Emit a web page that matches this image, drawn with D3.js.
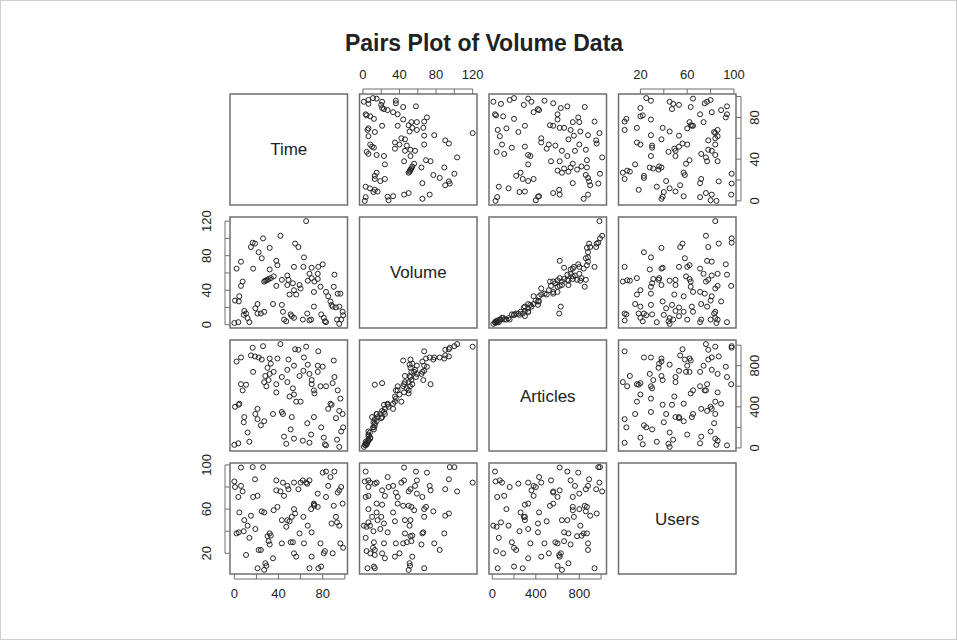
<!DOCTYPE html>
<html>
<head>
<meta charset="utf-8">
<script src="https://cdn.jsdelivr.net/npm/d3@7"></script>
<style>
  body { margin: 0; background: #fff; }
  svg { display: block; }
  text { font-family: "Liberation Sans", Arial, Helvetica, sans-serif; fill: #222; }
</style>
</head>
<body>
<svg id="chart" width="957" height="640"></svg>
<script>
// Variables shown on the diagonal, in order
const varNames = ["Time", "Volume", "Articles", "Users"];

// One entry per observation
const time = [0, 0.6, 2, 3.6, 4, 4.5, 6, 6, 7.5, 8.5, 9, 10.6, 12, 13.6, 15, 16.6, 17, 18.7, 19, 21,
  21, 22, 24, 24.8, 26, 27, 27, 28, 29, 30, 31, 33, 32, 32, 35, 35.6, 38, 38, 39, 41.7,
  43, 43, 44, 45, 47, 48, 48, 49, 50, 51, 52, 53, 54, 54, 54, 55, 56, 58, 59, 60,
  62, 62.5, 63, 65, 66, 66.5, 68, 68, 69.5, 70, 70, 72, 72, 72.5, 75.5, 75.5, 76, 78, 78.6, 80,
  81, 82, 83, 83, 85, 87, 88, 89, 90, 90.6, 92, 93, 93.6, 95, 95, 96, 96.7, 98, 98.5];

const volume = [2, 28, 65, 3, 27, 33, 73, 45, 50, 11.5, 16, 13, 7.7, 3, 90, 95, 65, 94, 19, 13,
  24, 84, 13, 77, 100, 15, 50, 51, 51.5, 52, 53, 54, 89, 64, 24, 56, 74, 45, 69, 103,
  52, 23, 15, 6, 4, 57, 46, 52, 35, 12, 10, 48, 67, 40, 8, 94, 35, 90, 46, 42,
  6, 67, 78, 120, 13, 51, 59, 5, 6, 66, 54, 38, 21, 50, 59, 53, 67, 44, 12, 70,
  8, 4, 38, 3, 33, 27, 23, 21, 44, 58, 20, 6, 36, 21, 1, 36, 6, 15, 11];

const articles = [30, 400, 840, 45, 420, 430, 880, 620, 560, 250, 300, 615, 150, 60, 900, 975, 740, 890, 330, 280,
  380, 880, 220, 860, 990, 260, 640, 700, 600, 780, 660, 820, 870, 720, 330, 740, 620, 540, 870, 1010,
  690, 350, 330, 110, 40, 760, 640, 860, 500, 180, 300, 580, 800, 520, 90, 960, 450, 955, 700, 450,
  70, 750, 880, 985, 240, 810, 720, 50, 130, 660, 620, 560, 300, 530, 800, 740, 940, 600, 200, 790,
  100, 35, 600, 25, 380, 430, 420, 630, 850, 690, 290, 80, 560, 360, 10, 480, 160, 330, 200];

const users = [85, 80, 38, 71, 39, 57, 81, 97.6, 76, 40, 50, 18.5, 45, 34, 54, 98, 71, 87, 42, 6.5,
  72, 23, 23, 58, 98, 57, 5, 11, 8.7, 35.5, 31, 36, 38, 28, 15.5, 59, 77, 86, 62, 76,
  50, 29, 84, 72, 44, 81, 50, 78, 49, 30, 53, 30, 60, 20, 84, 56, 17, 78, 38, 84,
  86, 53, 29, 84, 83, 45, 86, 6.5, 60, 39, 17, 65, 64, 63, 74, 62, 6.5, 29, 8, 93,
  20, 22, 71, 94, 81, 89, 47, 20, 63, 94, 53, 48, 75, 77, 45, 29, 80, 65, 25];

const series = [time, volume, articles, users];

const svg = d3.select("#chart");
const W = 957, H = 640;

// Light frame around the figure
svg.append("rect")
  .attr("x", 0.5).attr("y", 0.5).attr("width", W - 1).attr("height", H - 1)
  .attr("fill", "#fff").attr("stroke", "#d0d0d0");

// Title
svg.append("text")
  .attr("x", 484).attr("y", 51)
  .attr("text-anchor", "middle")
  .style("font-size", "23px").style("font-weight", "bold")
  .text("Pairs Plot of Volume Data");

// Grid of panels
const idx = d3.range(varNames.length);
const colBand = d3.scaleBand().domain(idx).range([230, 736]).paddingInner(0.0927);
const rowBand = d3.scaleBand().domain(idx).range([94, 574]).paddingInner(0.0976);
const bw = colBand.bandwidth(), bh = rowBand.bandwidth();

// Domain padded by 4% on each side
function padded(values) {
  const [lo, hi] = d3.extent(values);
  const r = hi - lo;
  return [lo - 0.04 * r, hi + 0.04 * r];
}

const xScales = series.map((v, j) =>
  d3.scaleLinear().domain(padded(v)).range([colBand(j), colBand(j) + bw]));
const yScales = series.map((v, i) =>
  d3.scaleLinear().domain(padded(v)).range([rowBand(i) + bh, rowBand(i)]));

const borderColor = "#6f6f6f";
const inkColor = "#262626";

idx.forEach(i => {
  idx.forEach(j => {
    const g = svg.append("g");
    const x0 = colBand(j), y0 = rowBand(i);
    if (i === j) {
      g.append("text")
        .attr("x", x0 + bw / 2).attr("y", y0 + bh / 2 + 6)
        .attr("text-anchor", "middle")
        .style("font-size", "17px")
        .text(varNames[i]);
    } else {
      const xs = xScales[j], ys = yScales[i];
      g.selectAll("circle")
        .data(d3.range(time.length))
        .join("circle")
        .attr("cx", k => xs(series[j][k]))
        .attr("cy", k => ys(series[i][k]))
        .attr("r", 2.5)
        .attr("fill", "none")
        .attr("stroke", inkColor)
        .attr("stroke-width", 1);
    }
    g.append("rect")
      .attr("x", x0).attr("y", y0).attr("width", bw).attr("height", bh)
      .attr("fill", "none").attr("stroke", borderColor).attr("stroke-width", 1.5);
  });
});

// Axes: alternating sides as in a classic scatterplot matrix
const tickLen = 5;
function labelEveryOther(ticks) {
  return ticks.map((t, k) => (k % 2 === 0 ? String(t) : ""));
}

function horizontalAxis(scale, yEdge, dir, labelOffset) {
  const ticks = scale.ticks(5);
  const labels = labelEveryOther(ticks);
  const g = svg.append("g").attr("stroke", borderColor);
  g.append("line")
    .attr("x1", scale(ticks[0])).attr("x2", scale(ticks[ticks.length - 1]))
    .attr("y1", yEdge + dir * tickLen).attr("y2", yEdge + dir * tickLen)
    .attr("stroke-width", 1);
  ticks.forEach((t, k) => {
    g.append("line")
      .attr("x1", scale(t)).attr("x2", scale(t))
      .attr("y1", yEdge).attr("y2", yEdge + dir * tickLen)
      .attr("stroke-width", 1);
    if (labels[k]) {
      svg.append("text")
        .attr("x", scale(t)).attr("y", yEdge + dir * labelOffset)
        .attr("text-anchor", "middle").attr("dominant-baseline", "central")
        .style("font-size", "13px")
        .text(labels[k]);
    }
  });
}

function verticalAxis(scale, xEdge, dir, labelOffset) {
  const ticks = scale.ticks(5);
  const labels = labelEveryOther(ticks);
  const g = svg.append("g").attr("stroke", borderColor);
  g.append("line")
    .attr("y1", scale(ticks[0])).attr("y2", scale(ticks[ticks.length - 1]))
    .attr("x1", xEdge + dir * tickLen).attr("x2", xEdge + dir * tickLen)
    .attr("stroke-width", 1);
  ticks.forEach((t, k) => {
    g.append("line")
      .attr("y1", scale(t)).attr("y2", scale(t))
      .attr("x1", xEdge).attr("x2", xEdge + dir * tickLen)
      .attr("stroke-width", 1);
    if (labels[k]) {
      const cx = xEdge + dir * labelOffset, cy = scale(t);
      svg.append("text")
        .attr("transform", `translate(${cx},${cy}) rotate(-90)`)
        .attr("text-anchor", "middle").attr("dominant-baseline", "central")
        .style("font-size", "13px")
        .text(labels[k]);
    }
  });
}

const n = varNames.length;
idx.forEach(j => {
  if (j % 2 === 1) horizontalAxis(xScales[j], rowBand(0), -1, 19.5);
  else horizontalAxis(xScales[j], rowBand(n - 1) + bh, 1, 19);
});
idx.forEach(i => {
  if (i % 2 === 1) verticalAxis(yScales[i], colBand(0), -1, 24);
  else verticalAxis(yScales[i], colBand(n - 1) + bw, 1, 18);
});
</script>
</body>
</html>
